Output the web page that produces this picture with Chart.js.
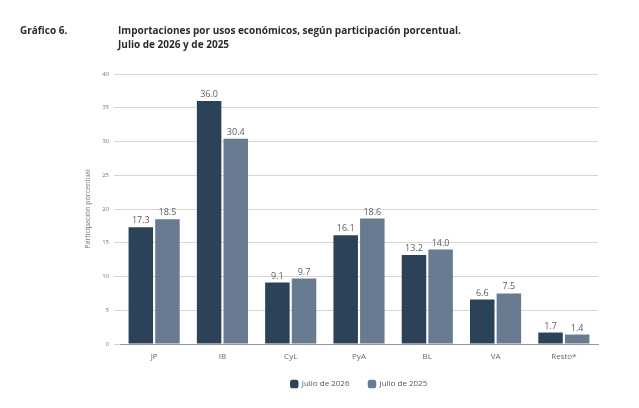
<!DOCTYPE html>
<html lang="es">
<head>
  <meta charset="UTF-8" />
  <title>Gráfico 6</title>
  <style>
    body { margin: 0; background: #fff; }
    #wrap { position: relative; width: 639px; height: 408px; }
    #chart { position: absolute; left: 0; top: 0; }
    .t { position: absolute; font-family: "Open Sans", sans-serif; font-size: 10px; font-weight: bold; color: #2b2b2b; line-height: 14px; }
  </style>
</head>
<body>
  <div id="wrap">
    <canvas id="chart" width="639" height="408"></canvas>
    <div class="t" style="left:20px; top:23px;">Gráfico 6.</div>
    <div class="t" style="left:118px; top:23px;">Importaciones por usos económicos, según participación porcentual.<br>Julio de 2026 y de 2025</div>
  </div>

  <script src="https://cdn.jsdelivr.net/npm/chart.js"></script>
  <script>
    // Datos
    const categorias = ['JP', 'IB', 'CyL', 'PyA', 'BL', 'VA', 'Resto*'];
    const julio2026 = [17.3, 36.0, 9.1, 16.1, 13.2, 6.6, 1.7];
    const julio2025 = [18.5, 30.4, 9.7, 18.6, 14.0, 7.5, 1.4];
    const etiquetasSeries = ['Julio de 2026', 'Julio de 2025'];

    // Etiquetas de valor sobre cada barra
    const valueLabels = {
      id: 'valueLabels',
      afterDatasetsDraw(chart) {
        const ctx = chart.ctx;
        ctx.save();
        ctx.font = '9px "Open Sans", sans-serif';
        ctx.fillStyle = '#5c5c5c';
        ctx.textAlign = 'center';
        ctx.textBaseline = 'bottom';
        chart.data.datasets.forEach((ds, i) => {
          chart.getDatasetMeta(i).data.forEach((bar, j) => {
            ctx.fillText(ds.data[j].toFixed(1), bar.x, bar.y - 2);
          });
        });
        ctx.restore();
      }
    };

    new Chart(document.getElementById('chart'), {
      type: 'bar',
      data: {
        labels: categorias,
        datasets: [
          { label: etiquetasSeries[0], data: julio2026, backgroundColor: '#2c4259' },
          { label: etiquetasSeries[1], data: julio2025, backgroundColor: '#687b91' }
        ]
      },
      options: {
        responsive: false,
        animation: false,
        layout: { padding: { top: 74, right: 41, bottom: 10, left: 84 } },
        datasets: { bar: { categoryPercentage: 0.78, barPercentage: 0.92 } },
        scales: {
          x: {
            grid: { display: false },
            border: { color: '#999' },
            ticks: { color: '#666', font: { size: 8, family: 'Open Sans' }, padding: 0 },
            afterFit(scale) { scale.height = 17; }
          },
          y: {
            min: 0, max: 40,
            ticks: { stepSize: 5, color: '#777', font: { size: 6, family: 'Open Sans' }, padding: 5 },
            grid: { color: '#d6d6d6', tickLength: 6 },
            border: { display: false },
            title: { display: true, text: 'Participación porcentual', color: '#777', font: { size: 7, family: 'Open Sans' }, padding: 0 },
            afterFit(scale) { scale.width = 36; }
          }
        },
        plugins: {
          legend: {
            position: 'bottom',
            fullSize: false,
            labels: { usePointStyle: true, pointStyle: 'rectRounded', boxWidth: 7, boxHeight: 7, color: '#555', font: { size: 8, family: 'Open Sans' }, padding: 19 }
          },
          tooltip: { enabled: false }
        }
      },
      plugins: [valueLabels]
    });
  </script>
</body>
</html>
